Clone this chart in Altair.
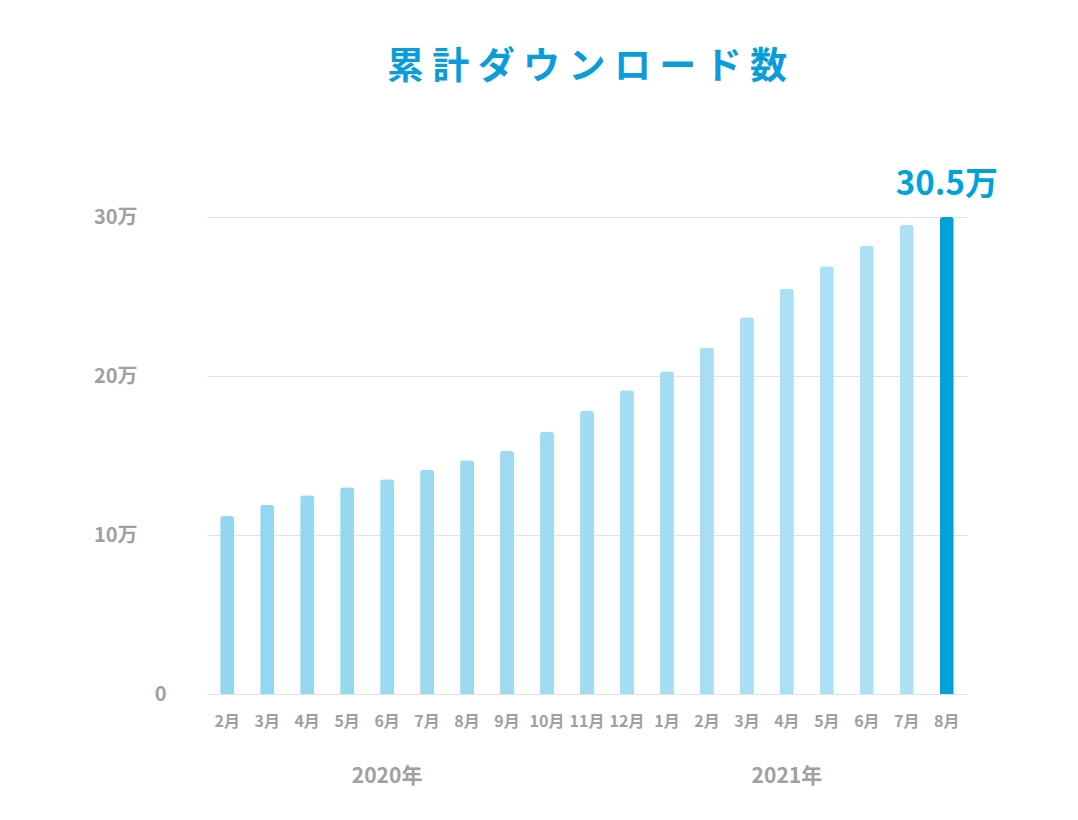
import altair as alt
import pandas as pd

# ---- data (values in 万 downloads) ----
years = [2020] * 11 + [2021] * 8
months = [2, 3, 4, 5, 6, 7, 8, 9, 10, 11, 12, 1, 2, 3, 4, 5, 6, 7, 8]
downloads = [11.2, 11.9, 12.5, 13.0, 13.5, 14.1, 14.7, 15.3, 16.5, 17.8, 19.1,
             20.3, 21.8, 23.7, 25.5, 26.9, 28.2, 29.5, 30.0]
y_ticks = [0, 10, 20, 30]
highlight_label = ["30.5万"]
year_label_at = {"2020-6": "2020年", "2021-4": "2021年"}

keys = [f"{y}-{m}" for y, m in zip(years, months)]
df = pd.DataFrame({"key": keys, "idx": list(range(len(keys))), "v": downloads})
df_hl = pd.DataFrame({"key": [keys[-1]], "v": [downloads[-1]], "label": highlight_label})

FONT = "Noto Sans CJK JP"
GRAY = "#a0a0a0"
BLUE = "#00a2d9"

x_month = alt.X(
    "key:N", sort=keys, title=None,
    scale=alt.Scale(paddingInner=0.65, paddingOuter=0.33),
    axis=alt.Axis(
        labelExpr="split(datum.value, '-')[1] + '月'",
        labelFont=FONT, labelFontSize=16, labelFontWeight="bold", labelColor=GRAY,
        labelPadding=19, labelAngle=0, labelOverlap=False,
        domain=False, ticks=False, grid=False,
    ),
)

year_expr = " : ".join(f"datum.value == '{k}' ? '{v}'" for k, v in year_label_at.items()) + " : ''"
x_year = alt.X(
    "key:N", sort=keys, title=None,
    axis=alt.Axis(
        orient="bottom", labelExpr=year_expr,
        labelFont=FONT, labelFontSize=21, labelFontWeight="bold", labelColor=GRAY,
        labelPadding=71, labelAngle=0, labelOverlap=False,
        domain=False, ticks=False, grid=False,
    ),
)

y_enc = alt.Y(
    "v:Q", title=None,
    scale=alt.Scale(domain=[0, 30], nice=False),
    axis=alt.Axis(
        values=y_ticks,
        labelExpr="datum.value == 0 ? '0' : datum.value + '万'",
        labelFont=FONT, labelFontSize=20, labelFontWeight="bold", labelColor=GRAY,
        labelPadding={"condition": {"test": "datum.value == 0", "value": 41}, "value": 70},
        domain=False, ticks=False,
        grid=True, gridColor="#e2e2e2", gridWidth=1,
    ),
)

last_idx = len(keys) - 1
bars = alt.Chart(df).mark_bar(cornerRadiusTopLeft=3, cornerRadiusTopRight=3).encode(
    x=x_month,
    y=y_enc,
    color=alt.when(alt.datum.idx == last_idx)
    .then(alt.value(BLUE))
    .otherwise(alt.Color("idx:Q", legend=None,
                         scale=alt.Scale(range=["#92d6f0", "#b1e2f5"]))),
)

label = alt.Chart(df_hl).mark_text(
    font=FONT, fontSize=33, fontWeight="bold", color=BLUE,
    baseline="alphabetic", align="center", dy=-22,
).encode(x=x_year, y=alt.Y("v:Q"), text="label:N")

title_text = " ".join(list("累計ダウンロード数"))

chart = alt.layer(bars, label).resolve_axis(x="independent").properties(
    width=760, height=477,
    autosize=alt.AutoSizeParams(type="none"),
    padding={"left": 199, "top": 209, "right": 103, "bottom": 110},
    title=alt.Title(title_text, font=FONT, fontSize=37, fontWeight="bold",
                    color="#0b9dd9", anchor="middle", frame="group", offset=82),
).configure_view(stroke=None)

chart.save("out.html", embed_options={"renderer": "svg", "actions": False})
